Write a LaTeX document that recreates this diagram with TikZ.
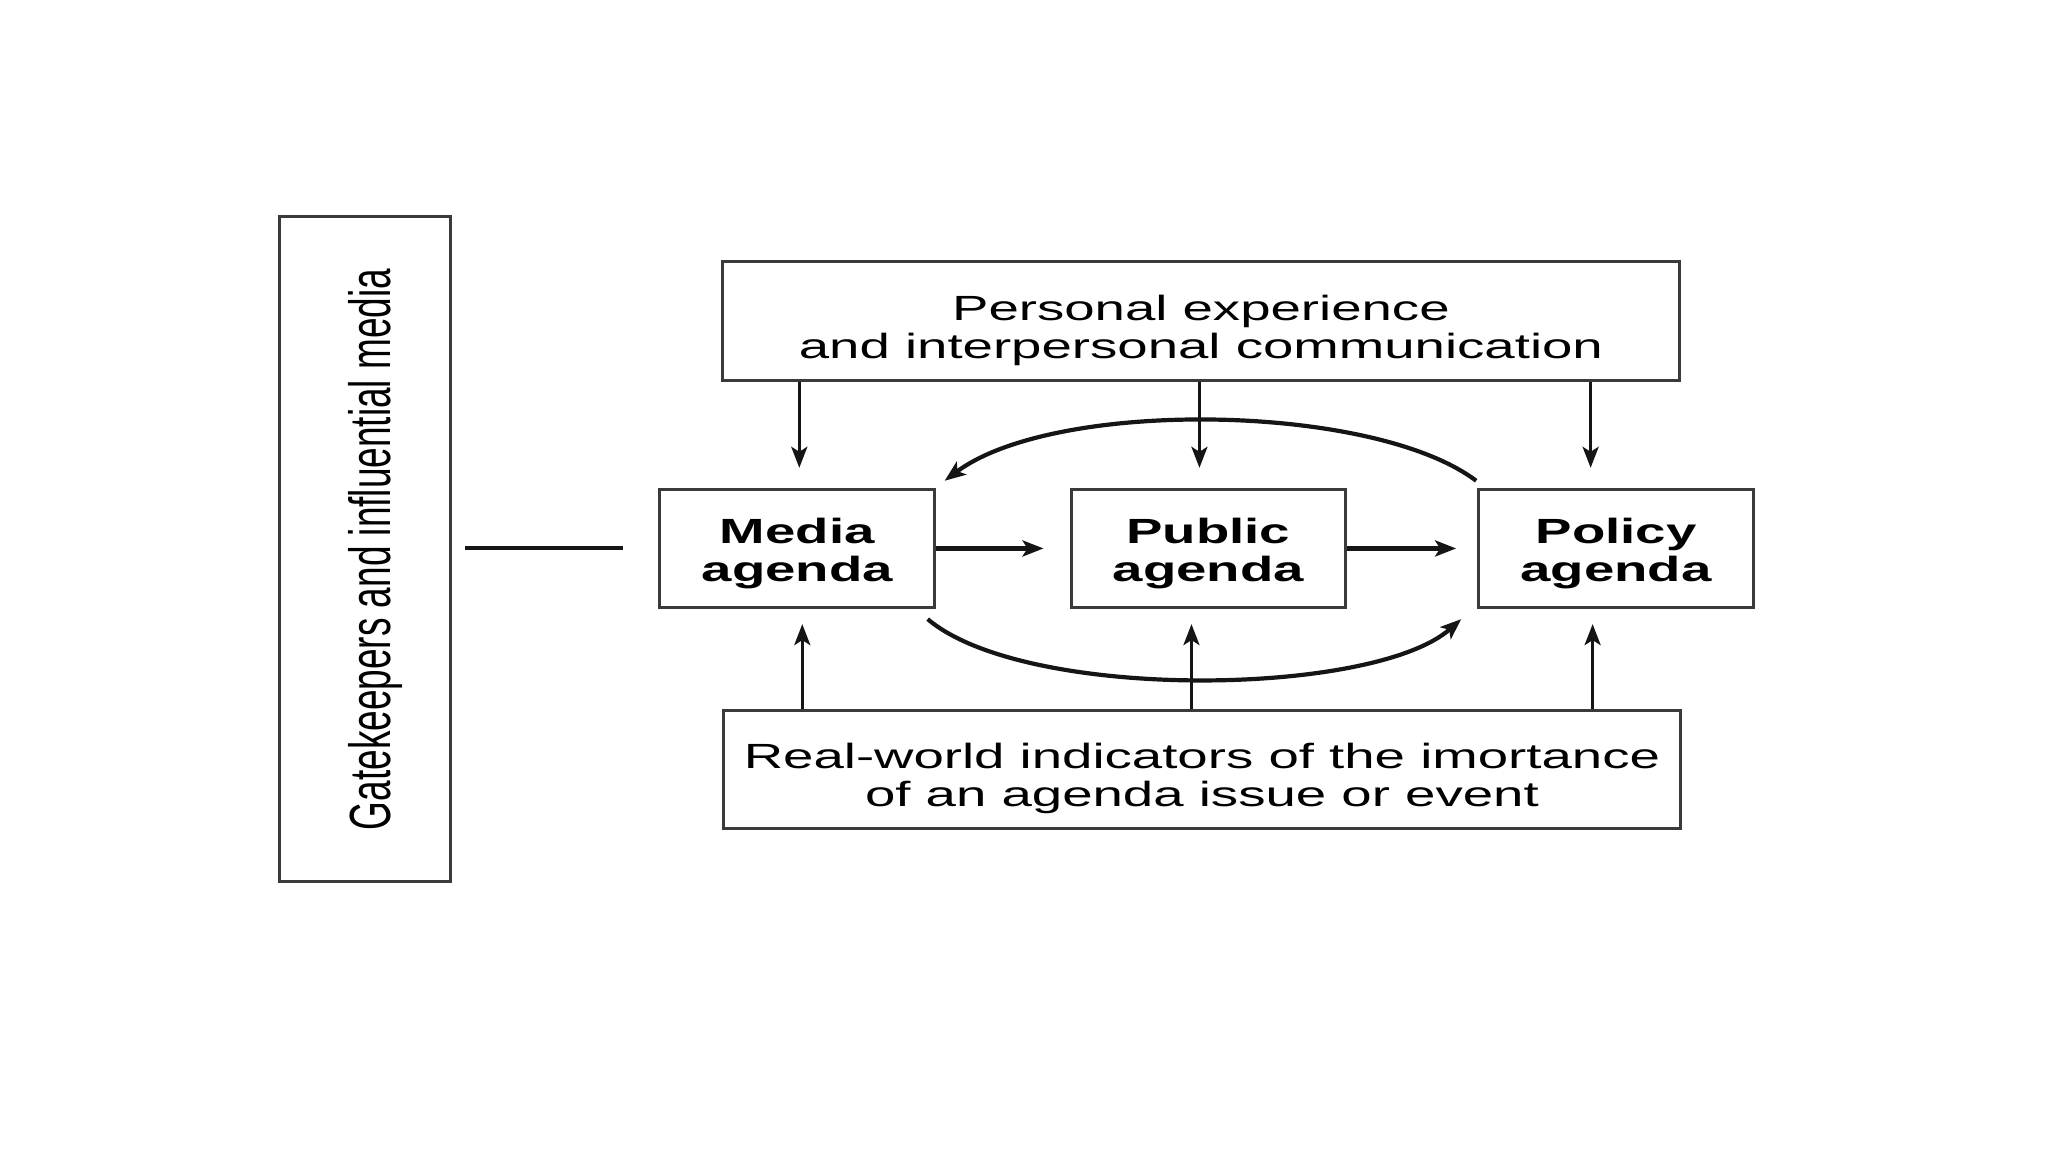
\documentclass[tikz,border=0pt]{standalone}
\usepackage{fontspec}
\usetikzlibrary{arrows.meta,calc}
\newfontfamily\widefont{Liberation Sans}[FakeStretch=1.56]
\newfontfamily\plainsans{Liberation Sans}
\definecolor{boxline}{HTML}{3A3A3A}
\definecolor{inkline}{HTML}{151515}
\newcommand\lowerlines[2]{\raisebox{#1}[\height][\depth]{\begin{tabular}{@{}c@{}}#2\end{tabular}}}
\begin{document}
\begin{tikzpicture}[x=0.49775pt,y=-0.49775pt,
  box/.style={draw=boxline, line width=1.5pt, inner sep=0pt, align=center,
    font=\widefont\fontsize{17.5}{19}\selectfont, text=black},
  agbox/.style={box, minimum width=137.4pt, minimum height=58.7pt,
    font=\widefont\bfseries\fontsize{17.5}{19}\selectfont},
  arr/.style={draw=inkline, line width=1.6pt, -{Stealth[length=10.5pt,width=8pt,inset=2.5pt]}},
  heavyarr/.style={arr, line width=2.1pt},
  plainline/.style={draw=inkline, line width=2pt}
]
\useasboundingbox (0,0) rectangle (2057.5,1157.3);
\fill[white] (0,0) rectangle (2057.5,1157.3);

% boxes
\node[box, minimum width=85.6pt, minimum height=332.5pt] (gate) at (367,552)
  {\rotatebox{90}{\raisebox{-5pt}[\height][\depth]{\scalebox{1}[1.57]{\plainsans\fontsize{18.5}{20}\selectfont Gatekeepers and influential media}}}};
\node[box, minimum width=478.3pt, minimum height=59.2pt] (top) at (1206.5,322.5)
  {\lowerlines{-5.3pt}{Personal experience\\and interpersonal communication}};
\node[box, minimum width=478.3pt, minimum height=58.7pt] (bottom) at (1207.5,773)
  {\lowerlines{-5.3pt}{Real-world indicators of the imortance\\of an agenda issue or event}};
\node[agbox] (media) at (801,551) {\lowerlines{-3.3pt}{Media\\agenda}};
\node[agbox] (public) at (1214,551) {\lowerlines{-3.3pt}{Public\\agenda}};
\node[agbox] (policy) at (1623.5,551) {\lowerlines{-3.3pt}{Policy\\agenda}};

% free ends
\coordinate (d1) at (803,470);
\coordinate (d2) at (1205,470);
\coordinate (d3) at (1598,470);
\coordinate (u1) at (806,627);
\coordinate (u2) at (1197,627);
\coordinate (u3) at (1600,627);
\coordinate (tcS) at (1483,483);
\coordinate (tcE) at (949,483);
\coordinate (bcS) at (932,622);
\coordinate (bcE) at (1468,622);

% gatekeeper line
\draw[plainline, shorten <=6.5pt, shorten >=17.5pt] (gate.east |- media.west) -- (media.west);

% down arrows
\draw[arr] (top.south -| d1) -- (d1);
\draw[arr] (top.south -| d2) -- (d2);
\draw[arr] (top.south -| d3) -- (d3);

% up arrows
\draw[arr] (bottom.north -| u1) -- (u1);
\draw[arr] (bottom.north -| u2) -- (u2);
\draw[arr] (bottom.north -| u3) -- (u3);

% horizontal arrows
\draw[heavyarr, shorten >=13pt] (media.east) -- (public.west);
\draw[heavyarr, shorten >=10.5pt] (public.east) -- (policy.west);

% curved arrows
\draw[heavyarr] (tcS) .. controls (1380,405) and (1060,400) .. (tcE);
\draw[heavyarr] (bcS) .. controls (1030,705) and (1380,700) .. (bcE);
\end{tikzpicture}
\end{document}
